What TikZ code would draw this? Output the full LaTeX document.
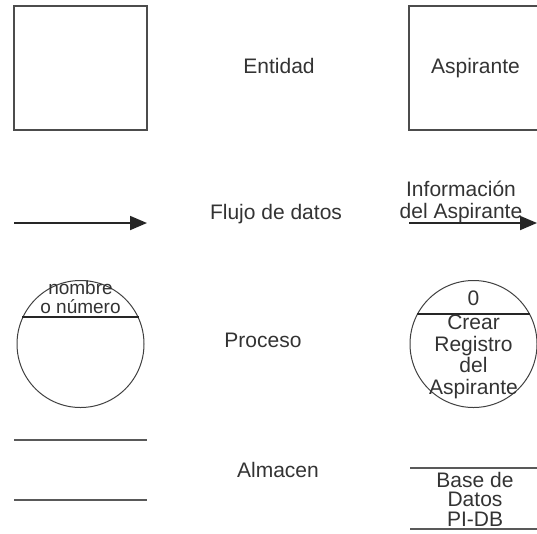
\documentclass[tikz,border=0pt]{standalone}
\usepackage{fontspec}
\setmainfont{Liberation Sans}
\usetikzlibrary{arrows.meta}
\begin{document}
\begin{tikzpicture}[x=1pt,y=-1pt,
  lbl/.style={font=\fontsize{21}{21.5}\selectfont, text=black!80, inner sep=0pt, align=center},
  boxshape/.style={draw=black!70, line width=1.4pt, minimum width=133pt, minimum height=124pt, inner sep=0pt},
  proc/.style={draw=black!75, line width=1pt, circle, minimum size=127pt, inner sep=0pt},
  flow/.style={draw=black!85, line width=1.8pt, -{Triangle[length=17pt,width=14pt]}},
  chord/.style={draw=black!85, line width=1.6pt},
  storeline/.style={draw=black!65, line width=1.6pt}]
\useasboundingbox (0,0) rectangle (537,533);
\clip (0,0) rectangle (537,533);
% Entity
\node[boxshape] (ent) at (80.5,68) {};
\node[lbl] (entL) at (279,66) {Entidad};
\node[boxshape, lbl, draw=black!70, line width=1.4pt, minimum width=133pt, minimum height=124pt] (asp) at (475.5,68) {Aspirante};
% Flow
\coordinate (fa) at (14,223);
\coordinate (fb) at (147,223);
\draw[flow] (fa) -- (fb);
\node[lbl] (flowL) at (276,214) {Flujo de datos};
\coordinate (ga) at (409,223);
\coordinate (gb) at (537,223);
\draw[flow] (ga) -- (gb);
\node[lbl] (flowR) at (461,202) {Información\\del Aspirante};
% Process
\node[proc] (p1) at (80.5,344) {};
\coordinate (p1a) at (22,317);
\coordinate (p1b) at (139,317);
\draw[chord] (p1a) -- (p1b);
\node[lbl, font=\fontsize{19}{19}\selectfont] (p1L) at (80.5,297) {nombre\\o número};
\node[lbl] (procL) at (263,340) {Proceso};
\node[proc] (p2) at (473.5,344) {};
\coordinate (p2a) at (417,314);
\coordinate (p2b) at (530,314);
\draw[chord] (p2a) -- (p2b);
\node[lbl] (p2n) at (473.5,298) {0};
\node[lbl] (p2L) at (473.5,357) {Crear\\Registro\\del\\Aspirante};
% Store
\coordinate (s1a) at (14,440);
\coordinate (s1b) at (147,440);
\coordinate (s1c) at (14,500);
\coordinate (s1d) at (147,500);
\draw[storeline] (s1a) -- (s1b);
\draw[storeline] (s1c) -- (s1d);
\node[lbl] (storeL) at (278,470) {Almacen};
\coordinate (s2a) at (410,468);
\coordinate (s2b) at (540,468);
\coordinate (s2c) at (410,529);
\coordinate (s2d) at (540,529);
\draw[storeline] (s2a) -- (s2b);
\draw[storeline] (s2c) -- (s2d);
\node[lbl, font=\fontsize{21}{19.5}\selectfont] (s2L) at (475,499) {Base de\\Datos\\PI-DB};
\end{tikzpicture}
\end{document}
